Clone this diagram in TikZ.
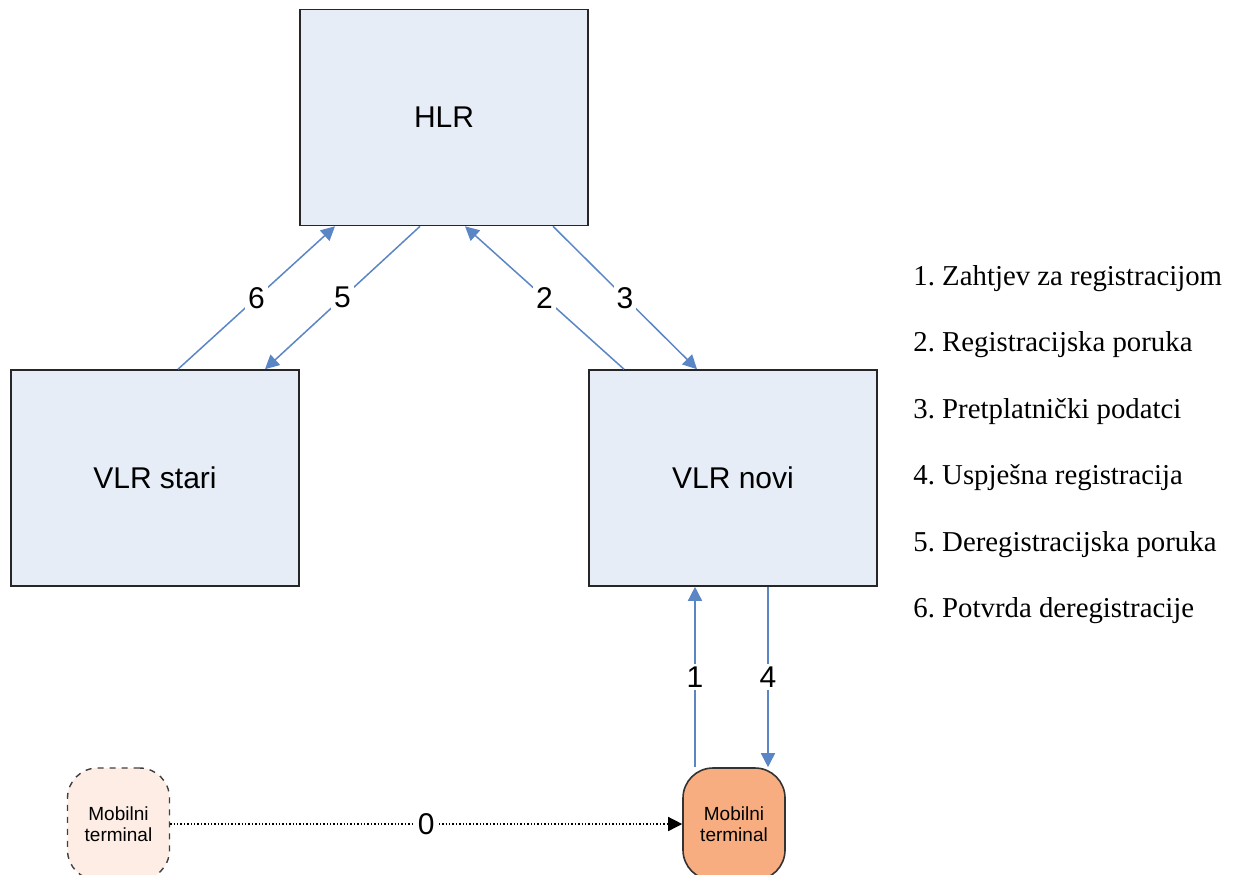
\documentclass[tikz,border=0pt]{standalone}
\usepackage{fontspec}
\setmainfont{Liberation Serif}
\setsansfont{Liberation Sans}
\usetikzlibrary{arrows.meta}
\frenchspacing
\definecolor{boxfill}{HTML}{E6EDF7}
\definecolor{arrowblue}{HTML}{5B86C6}
\definecolor{mtold}{HTML}{FDEDE5}
\definecolor{mtnew}{HTML}{F8AD80}
\tikzset{
  regbox/.style={draw=black!85, line width=0.8pt, fill=boxfill, minimum width=144pt, minimum height=108pt, inner sep=0pt, font=\sffamily\fontsize{15}{18}\selectfont},
  mterm/.style={rounded corners=15pt, minimum width=51pt, minimum height=56pt, inner sep=0pt, align=center, font=\sffamily\fontsize{9.5}{10.5}\selectfont},
  blueline/.style={draw=arrowblue, line width=0.75pt},
  bluearrow/.style={blueline, -{Triangle[width=7pt,length=7pt]}, arrowblue},
  numlbl/.style={fill=white, inner sep=1.5pt, font=\sffamily\fontsize{15}{18}\selectfont, text=black},
  legend/.style={anchor=base west, inner sep=0pt, font=\fontsize{14.4}{17}\selectfont}
}
\begin{document}
\begin{tikzpicture}[x=0.5pt,y=-0.5pt]
\useasboundingbox (0,0) rectangle (1235,874);
% boxes
\node[regbox] (hlr) at (444,117.5) {HLR};
\node[regbox] (vlrs) at (155,478) {VLR stari};
\node[regbox] (vlrn) at (733,478) {VLR novi};
% mobile terminals
\node[mterm, draw=black!75, dashed, line width=0.7pt, fill=mtold] (mto) at (118.5,824) {Mobilni\\terminal};
\node[mterm, draw=black!80, line width=0.8pt, fill=mtnew] (mtn) at (734,824) {Mobilni\\terminal};
% connectors between HLR and VLRs
\draw[bluearrow] ([xshift=11.5pt]vlrs.north) -- node[numlbl]{6} ([xshift=-54.5pt]hlr.south);
\draw[bluearrow] ([xshift=-12pt]hlr.south) -- node[numlbl]{5} ([xshift=55pt]vlrs.north);
\draw[bluearrow] ([xshift=-54.5pt]vlrn.north) -- node[numlbl]{2} ([xshift=10.5pt]hlr.south);
\draw[bluearrow] ([xshift=54.5pt]hlr.south) -- node[numlbl]{3} ([xshift=-18pt]vlrn.north);
% connectors between VLR novi and mobile terminal
\draw[bluearrow] ([xshift=-19.5pt]mtn.north) -- node[numlbl]{1} ([xshift=-19pt]vlrn.south);
\draw[bluearrow] ([xshift=17.5pt]vlrn.south) -- node[numlbl]{4} ([xshift=17pt]mtn.north);
% movement
\draw[densely dotted, line width=0.7pt, -{Triangle[width=7pt,length=7pt]}] (mto.east) -- node[numlbl]{0} (mtn.west);
% legend
\node[legend] (l1) at (913,285.5) {1. Zahtjev za registracijom};
\node[legend] (l2) at (913,351.5) {2. Registracijska poruka};
\node[legend] (l3) at (913,418) {3. Pretplatnički podatci};
\node[legend] (l4) at (913,484.5) {4. Uspješna registracija};
\node[legend] (l5) at (913,551) {5. Deregistracijska poruka};
\node[legend] (l6) at (913,617) {6. Potvrda deregistracije};
\end{tikzpicture}
\end{document}
